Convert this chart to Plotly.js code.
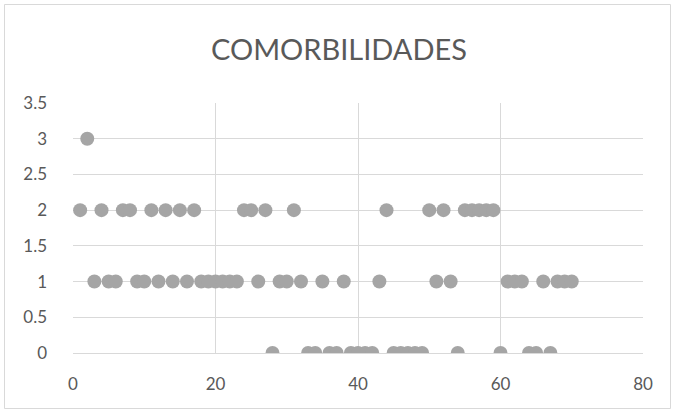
<!DOCTYPE html>
<html>
<head>
<meta charset="utf-8">
<script src="https://cdn.plot.ly/plotly-3.0.1.min.js"></script>
<style>
  html, body { margin: 0; padding: 0; background: #ffffff; }
  #chart { width: 678px; height: 413px; }
</style>
</head>
<body>
<div id="chart"></div>
<script>
// Patient number (x) and number of comorbidities (y)
const patients = [
  1, 2, 3, 4, 5, 6, 7, 8, 9, 10,
  11, 12, 13, 14, 15, 16, 17, 18, 19, 20,
  21, 22, 23, 24, 25, 26, 27, 28, 29, 30,
  31, 32, 33, 34, 35, 36, 37, 38, 39, 40,
  41, 42, 43, 44, 45, 46, 47, 48, 49, 50,
  51, 52, 53, 54, 55, 56, 57, 58, 59, 60,
  61, 62, 63, 64, 65, 66, 67, 68, 69, 70
];
const comorbidities = [
  2, 3, 1, 2, 1, 1, 2, 2, 1, 1,
  2, 1, 2, 1, 2, 1, 2, 1, 1, 1,
  1, 1, 1, 2, 2, 1, 2, 0, 1, 1,
  2, 1, 0, 0, 1, 0, 0, 1, 0, 0,
  0, 0, 1, 2, 0, 0, 0, 0, 0, 2,
  1, 2, 1, 0, 2, 2, 2, 2, 2, 0,
  1, 1, 1, 0, 0, 1, 0, 1, 1, 1
];
const xTicks = [0, 20, 40, 60, 80];
const yTicks = [0, 0.5, 1, 1.5, 2, 2.5, 3, 3.5];
const chartTitle = 'COMORBILIDADES';

const fontFamily = 'Lato, "Open Sans", "Liberation Sans", sans-serif';
const gridColor = '#d9d9d9';
const textColor = '#595959';

const trace = {
  type: 'scatter',
  mode: 'markers',
  x: patients,
  y: comorbidities,
  marker: { color: '#a5a5a5', size: 14, line: { width: 0 } },
  hoverinfo: 'x+y'
};

// plot area: 570 x 250 px inside the margins
const W = 678, H = 413, L = 73, R = 35, T = 103, B = 60;
const pw = W - L - R, ph = H - T - B;
const px = v => (v - L) / pw;
const py = v => (H - B - v) / ph;

const layout = {
  width: W,
  height: H,
  margin: { l: L, r: R, t: T, b: B, pad: 0 },
  paper_bgcolor: '#ffffff',
  plot_bgcolor: '#ffffff',
  showlegend: false,
  font: { family: fontFamily, color: textColor, size: 17 },
  title: {
    text: chartTitle,
    font: { family: fontFamily, size: 29, color: textColor },
    x: 0.5,
    xanchor: 'center',
    y: 1 - 50 / H,
    yanchor: 'middle'
  },
  xaxis: {
    range: [0, 80],
    tickvals: xTicks,
    ticktext: xTicks.map(String),
    showgrid: true,
    gridcolor: gridColor,
    gridwidth: 1,
    zeroline: false,
    showline: false,
    ticks: '',
    ticklabelstandoff: 19,
    tickfont: { family: fontFamily, size: 17, color: textColor },
    fixedrange: true
  },
  yaxis: {
    range: [0, 3.5],
    tickvals: yTicks,
    ticktext: yTicks.map(String),
    showgrid: true,
    gridcolor: gridColor,
    gridwidth: 1,
    zeroline: true,
    zerolinecolor: gridColor,
    zerolinewidth: 1,
    showline: false,
    ticks: '',
    ticklabelstandoff: 25,
    tickfont: { family: fontFamily, size: 17, color: textColor },
    fixedrange: true
  },
  shapes: [
    {
      type: 'rect',
      xref: 'paper', yref: 'paper',
      x0: px(4.5), x1: px(670.5),
      y0: py(408.5), y1: py(4.5),
      line: { color: '#d9d9d9', width: 1 },
      fillcolor: 'rgba(0,0,0,0)',
      layer: 'below'
    }
  ]
};

Plotly.newPlot('chart', [trace], layout, { displayModeBar: false, staticPlot: true });
</script>
</body>
</html>
